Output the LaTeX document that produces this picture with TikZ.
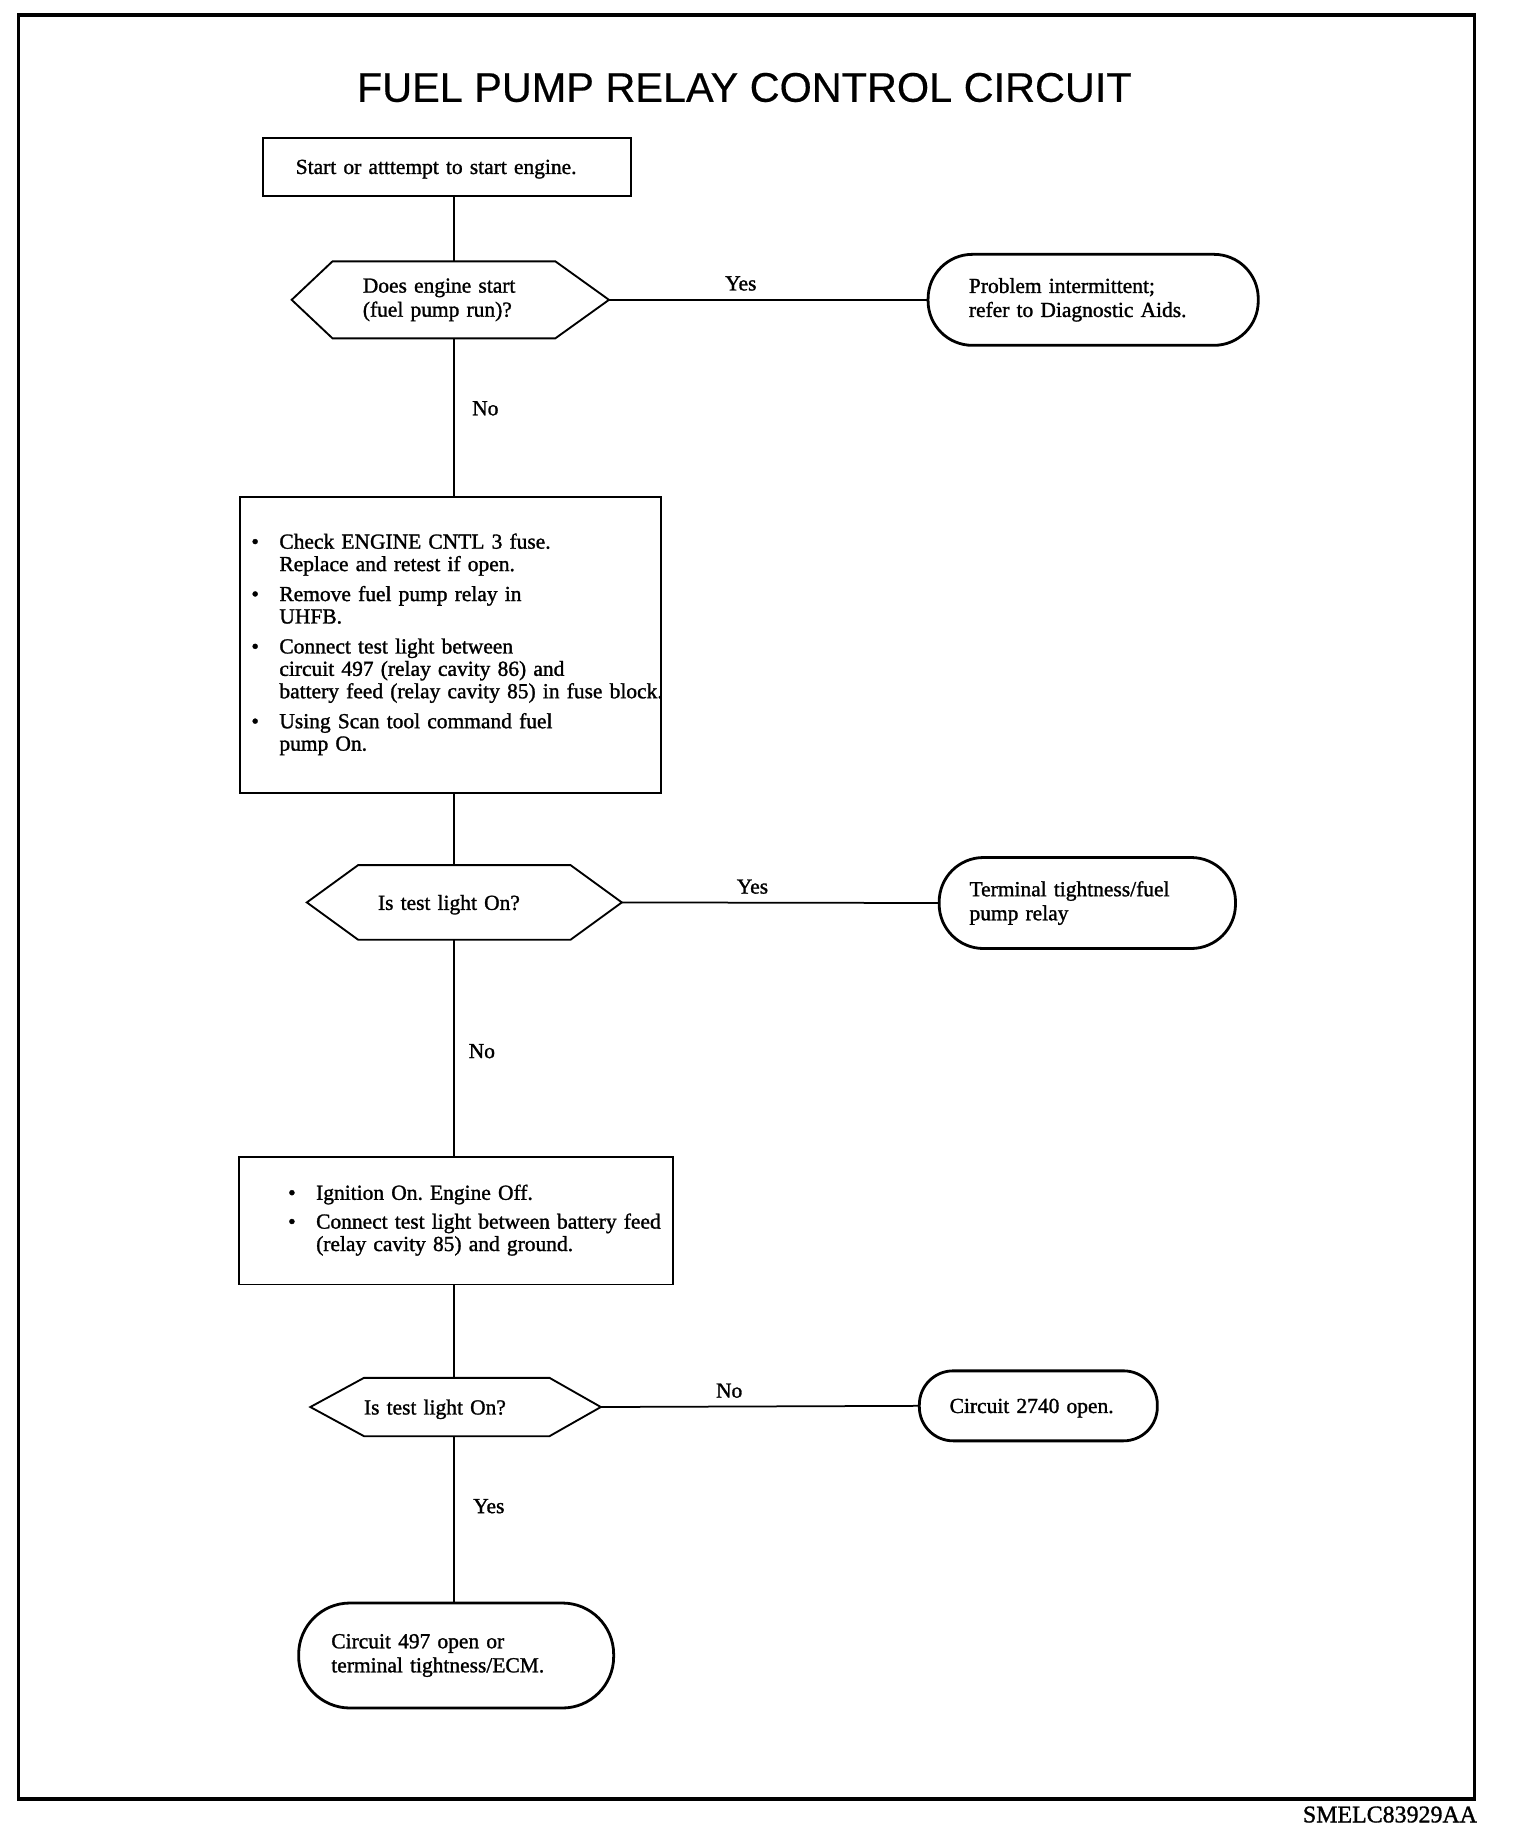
\documentclass[tikz,border=0pt]{standalone}
\usepackage{fontspec}
\setmainfont{Liberation Serif}
\newfontfamily\bodyfam{Liberation Serif}[FakeBold=1.3]
\newfontfamily\titlefont{Liberation Sans}[FakeBold=0.4]
\usetikzlibrary{calc}
\newcommand\bodyfont{\bodyfam\fontsize{18.4pt}{19.2pt}\selectfont\frenchspacing}
\newcommand\widefont{\bodyfam\fontsize{18.4pt}{20.6pt}\selectfont\frenchspacing}
\newcommand\bitem[2]{\hspace*{#1}\makebox[24pt][l]{\textbullet}\begin{tabular}[t]{@{}l@{}}#2\end{tabular}}
\begin{document}
\begin{tikzpicture}[x=1pt,y=-1pt,
  every node/.style={font=\bodyfont, outer sep=0pt},
  procbox/.style={draw, line width=1.6pt, rectangle, align=left, inner ysep=2pt},
  termbox/.style={draw, line width=2.4pt, rectangle, align=left, inner ysep=2pt, font=\widefont},
  hexa/.style={rectangle, align=left, inner ysep=2pt, font=\widefont},
  oneline/.style={text depth=0pt},
  hexline/.style={line width=1.6pt, line join=miter},
  conn/.style={line width=1.5pt},
  lab/.style={inner sep=1pt}]
\useasboundingbox (0,0) rectangle (1303,1572);
\draw[line width=3pt] (16,13) rectangle (1264,1542);
\node[font=\titlefont\fontsize{35.5pt}{40pt}\selectfont] (title) at (638,75) {FUEL PUMP RELAY CONTROL CIRCUIT};
\node[font=\bodyfam\fontsize{20.5pt}{22pt}\selectfont, anchor=base east, inner sep=0pt] (code) at (1266,1562) {SMELC83929AA};
\coordinate (spine) at (389,0);

% nodes
\node[procbox, oneline, minimum width=315, minimum height=50, inner xsep=28, text width=259] (start) at (383,143) {Start or atttempt to start engine.};

\node[hexa, minimum width=272, minimum height=66, inner xsep=61, text width=150] (d1) at (386,257) {Does engine start\\(fuel pump run)?};
\draw[hexline] ($(d1.north west)+(35,0)$) -- ($(d1.north east)+(-46,0)$) -- (d1.east) -- ($(d1.south east)+(-46,0)$) -- ($(d1.south west)+(35,0)$) -- (d1.west) -- cycle;

\node[termbox, minimum width=283, minimum height=78, rounded corners=38pt, inner xsep=35, text width=213] (t1) at (937,257) {Problem intermittent;\\refer to Diagnostic Aids.};

\node[procbox, minimum width=361, minimum height=254, inner xsep=10, text width=341] (box2) at (386,553) {%
\bitem{0pt}{Check ENGINE CNTL 3 fuse.\\Replace and retest if open.}\\[5.5pt]
\bitem{0pt}{Remove fuel pump relay in\\UHFB.}\\[5.5pt]
\bitem{0pt}{Connect test light between\\circuit 497 (relay cavity 86) and\\battery feed (relay cavity 85) in fuse block.}\\[5.5pt]
\bitem{0pt}{Using Scan tool command fuel\\pump On.}};

\node[hexa, oneline, minimum width=270, minimum height=64, inner xsep=61, text width=148] (d2) at (398,773.5) {Is test light On?};
\draw[hexline] ($(d2.north west)+(44,0)$) -- ($(d2.north east)+(-44,0)$) -- (d2.east) -- ($(d2.south east)+(-44,0)$) -- ($(d2.south west)+(44,0)$) -- (d2.west) -- cycle;

\node[termbox, minimum width=254, minimum height=78, rounded corners=38pt, inner xsep=26, text width=202] (t2) at (932,774) {Terminal tightness/fuel\\pump relay};

\node[procbox, minimum width=372, minimum height=109, inner xsep=11, text width=350] (box3) at (391,1046.5) {%
\bitem{31pt}{Ignition On. Engine Off.}\\[5.5pt]
\bitem{31pt}{Connect test light between battery feed\\(relay cavity 85) and ground.}};

\node[hexa, oneline, minimum width=249, minimum height=50, inner xsep=46, text width=157] (d3) at (390.5,1206) {Is test light On?};
\draw[hexline] ($(d3.north west)+(46,0)$) -- ($(d3.north east)+(-44,0)$) -- (d3.east) -- ($(d3.south east)+(-44,0)$) -- ($(d3.south west)+(46,0)$) -- (d3.west) -- cycle;

\node[termbox, oneline, minimum width=204, minimum height=60, rounded corners=29pt, inner xsep=26, text width=152] (t3) at (890,1205) {Circuit 2740 open.};

\node[termbox, minimum width=270, minimum height=90, rounded corners=44pt, inner xsep=28, text width=214] (t4) at (391,1419) {Circuit 497 open or\\terminal tightness/ECM.};

% connectors
\draw[conn] (start.south -| spine) -- (d1.north -| spine);
\draw[conn] (d1.south -| spine) -- (box2.north -| spine);
\draw[conn] (box2.south -| spine) -- (d2.north -| spine);
\draw[conn] (d2.south -| spine) -- (box3.north -| spine);
\draw[conn] (box3.south -| spine) -- (d3.north -| spine);
\draw[conn] (d3.south -| spine) -- (t4.north -| spine);
\draw[conn] (d1.east) -- (t1.west);
\draw[conn] (d2.east) -- (t2.west);
\draw[conn] (d3.east) -- (t3.west);

% labels
\node[lab] (y1) at (635,243) {Yes};
\node[lab] (n1) at (416,350) {No};
\node[lab] (y2) at (645,760) {Yes};
\node[lab] (n2) at (413,901) {No};
\node[lab] (n3) at (625,1192) {No};
\node[lab] (y3) at (419,1291) {Yes};
\end{tikzpicture}
\end{document}
